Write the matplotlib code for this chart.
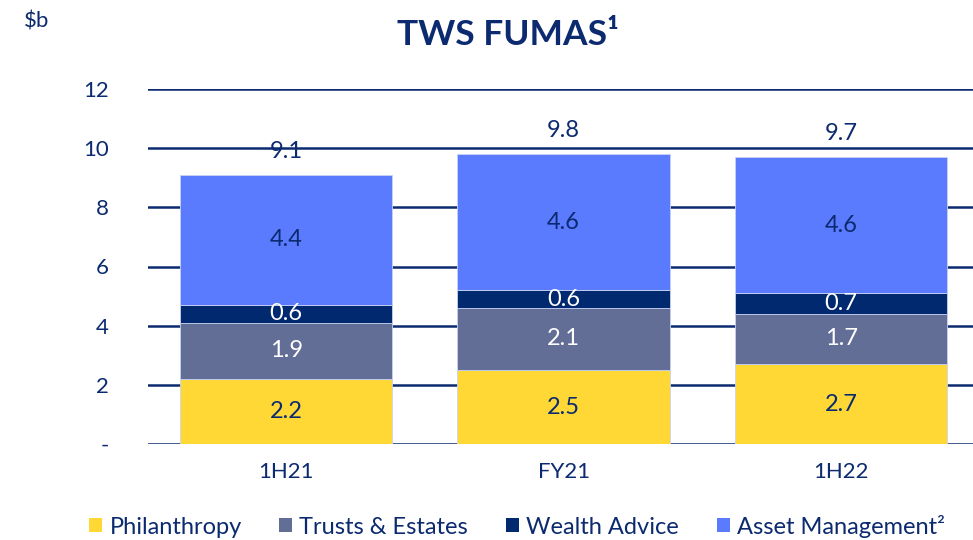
import numpy as np
import matplotlib.pyplot as plt
from matplotlib.patches import Patch

plt.rcParams['font.family'] = ['Lato', 'DejaVu Sans']

periods = ['1H21', 'FY21', '1H22']
philanthropy = [2.2, 2.5, 2.7]
trusts = [1.9, 2.1, 1.7]
wealth_advice = [0.6, 0.6, 0.7]
asset_mgmt = [4.4, 4.6, 4.6]
totals = [9.1, 9.8, 9.7]
yticks = [0, 2, 4, 6, 8, 10, 12]
ytick_labels = ['-', '2', '4', '6', '8', '10', '12']

navy = '#0B2A6F'
series = [
    ('Philanthropy', philanthropy, '#FFD836', navy),
    ('Trusts & Estates', trusts, '#636E96', 'white'),
    ('Wealth Advice', wealth_advice, '#00296F', 'white'),
    ('Asset Management²', asset_mgmt, '#5B7BFF', navy),
]

fig = plt.figure(figsize=(9.73, 5.4), dpi=100)
ax = fig.add_axes([148 / 973, 1 - 444 / 540, 825 / 973, 355 / 540])

x = np.arange(len(periods))
bottom = np.zeros(len(periods))
for name, vals, col, tcol in series:
    vals = np.array(vals)
    ax.bar(x, vals, 0.766, bottom=bottom, color=col, edgecolor='#C9D2F2',
           linewidth=0.6, zorder=3)
    for xi, b, v in zip(x, bottom, vals):
        ax.text(xi, b + v / 2, f'{v:.1f}', ha='center', va='center',
                fontsize=17, color=tcol, zorder=4)
    bottom += vals

for xi, t in zip(x, totals):
    ax.text(xi, t + 0.8, f'{t:.1f}', ha='center', va='center',
            fontsize=17, color=navy, zorder=1)

ax.set_ylim(0, 12)
ax.set_xlim(-0.498, 2.475)
ax.set_yticks(yticks)
ax.set_yticklabels(ytick_labels)
ax.set_xticks(x)
ax.set_xticklabels(periods)
ax.tick_params(length=0, labelsize=16, labelcolor=navy)
ax.tick_params(axis='y', pad=28)
ax.tick_params(axis='x', pad=13)
for yt in yticks:
    ax.axhline(yt, color=navy, linewidth=1.8, zorder=2)
for s in ax.spines.values():
    s.set_visible(False)

fig.text(508 / 973, 1 - 35 / 540, 'TWS FUMAS¹', ha='center', va='center',
         fontsize=25.5, fontweight='bold', color=navy)
fig.text(24 / 973, 1 - 22 / 540, '$b', ha='left', va='center',
         fontsize=16, color=navy)

# legend along the bottom
handles = [Patch(facecolor=c, label=n) for n, _, c, _ in series]
fig.legend(handles=handles, loc='center', bbox_to_anchor=(517 / 973, 1 - 526 / 540),
           ncol=4, frameon=False, fontsize=17, labelcolor=navy,
           handlelength=0.55, handleheight=0.55, handletextpad=0.3,
           columnspacing=1.6)

fig.savefig('out.png', dpi=100)
